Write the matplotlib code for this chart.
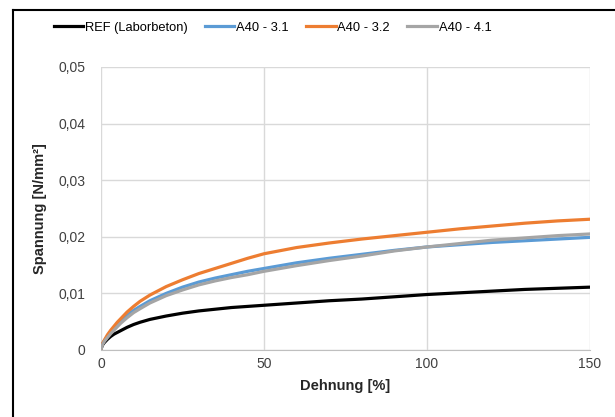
import numpy as np
import matplotlib
matplotlib.use('Agg')
import matplotlib.pyplot as plt
from matplotlib.ticker import FuncFormatter, MultipleLocator
from matplotlib.lines import Line2D

plt.rcParams['font.family'] = ['Liberation Sans', 'DejaVu Sans']

# Dehnung [%] and Spannung [N/mm²]
dehnung = [0, 0.2, 0.5, 1, 2, 3, 4, 5, 6, 8, 10, 12, 15, 20, 25, 30, 35, 40, 45, 50,
           60, 70, 80, 90, 100, 110, 120, 130, 140, 150]
ref = [0, 0.0005, 0.0009, 0.0013, 0.0019, 0.0024, 0.0028, 0.0031, 0.0034, 0.0040,
       0.0045, 0.0049, 0.0054, 0.0060, 0.0065, 0.0069, 0.0072, 0.0075, 0.0077, 0.0079,
       0.0083, 0.0087, 0.0090, 0.0094, 0.0098, 0.0101, 0.0104, 0.0107, 0.0109, 0.0111]
a40_31 = [0, 0.0006, 0.0011, 0.0016, 0.0024, 0.0032, 0.0038, 0.0044, 0.0050, 0.0061,
          0.0070, 0.0077, 0.0087, 0.0100, 0.0111, 0.0120, 0.0127, 0.0133, 0.0139, 0.0144,
          0.0154, 0.0162, 0.0169, 0.0176, 0.0182, 0.0186, 0.0190, 0.0193, 0.0196, 0.0199]
a40_32 = [0, 0.0007, 0.0012, 0.0017, 0.0027, 0.0035, 0.0042, 0.0049, 0.0055, 0.0067,
          0.0077, 0.0086, 0.0097, 0.0112, 0.0124, 0.0135, 0.0144, 0.0153, 0.0162, 0.0170,
          0.0181, 0.0189, 0.0196, 0.0202, 0.0208, 0.0214, 0.0219, 0.0224, 0.0228, 0.0231]
a40_41 = [0, 0.0005, 0.0010, 0.0015, 0.0022, 0.0029, 0.0035, 0.0041, 0.0047, 0.0057,
          0.0066, 0.0073, 0.0083, 0.0096, 0.0106, 0.0115, 0.0122, 0.0128, 0.0133, 0.0139,
          0.0149, 0.0158, 0.0166, 0.0175, 0.0182, 0.0188, 0.0194, 0.0198, 0.0202, 0.0205]

labels = ['REF (Laborbeton)', 'A40 - 3.1', 'A40 - 3.2', 'A40 - 4.1']
colors = ['#000000', '#5B9BD5', '#ED7D31', '#A5A5A5']

fig = plt.figure(figsize=(6.15, 4.17), dpi=100)
ax = fig.add_axes([0.1642, 0.1607, 0.7951, 0.6787])

for y, lab, c in zip([ref, a40_31, a40_32, a40_41], labels, colors):
    ax.plot(dehnung, y, color=c, lw=2.3, label=lab, solid_joinstyle='round')

ax.set_xlim(0, 150)
ax.set_ylim(0, 0.05)
ax.xaxis.set_major_locator(MultipleLocator(50))
ax.yaxis.set_major_locator(MultipleLocator(0.01))
ax.yaxis.set_major_formatter(FuncFormatter(
    lambda v, p: '0' if abs(v) < 1e-9 else ('%.2f' % v).replace('.', ',')))
ax.grid(True, color='#d9d9d9', lw=1)
ax.set_axisbelow(True)
for s in ['top', 'right', 'left']:
    ax.spines[s].set_visible(False)
ax.spines['bottom'].set_color('#bfbfbf')
ax.tick_params(length=0, labelsize=10, colors='#404040')
ax.tick_params(axis='y', pad=11)
ax.tick_params(axis='x', pad=5)

ax.set_xlabel('Dehnung [%]', fontsize=10.5, fontweight='bold', color='#262626', labelpad=6)
ax.set_ylabel('Spannung [N/mm²]', fontsize=10.5, fontweight='bold', color='#262626', labelpad=8)

fig.legend(loc='center', bbox_to_anchor=(0.443, 0.933), ncol=4, frameon=False,
           fontsize=9.3, handlelength=2.3, handletextpad=0.15, columnspacing=1.3)

# outer frame (only top and left visible in the crop)
fig.add_artist(Line2D([13/615, 13/615], [0, 1 - 10/417], color='black', lw=1.5))
fig.add_artist(Line2D([13/615, 1], [1 - 10/417, 1 - 10/417], color='black', lw=1.5))

fig.savefig('out.png', dpi=100)
